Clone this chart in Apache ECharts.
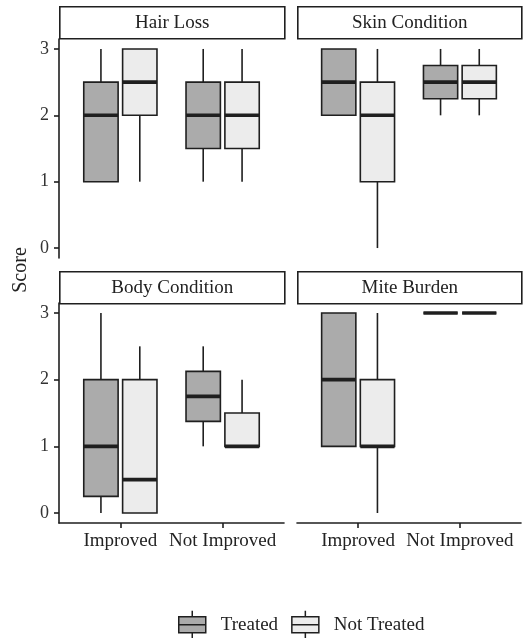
<!DOCTYPE html>
<html><head><meta charset="utf-8">
<script src="https://cdn.jsdelivr.net/npm/echarts@6/dist/echarts.min.js"></script>
<style>html,body{margin:0;padding:0;background:#fff}#c{width:525px;height:638px}</style>
</head><body><div id="c"></div>
<script>
// Data: each row = [min, q1, median, q3, max], one row per category
const categories = ['Improved', 'Not Improved'];
const panels = ['Hair Loss', 'Skin Condition', 'Body Condition', 'Mite Burden'];
const yTicks = [0, 1, 2, 3];
const hairTreated = [[1, 1, 2, 2.5, 3], [1, 1.5, 2, 2.5, 3]];
const hairNotTreated = [[1, 2, 2.5, 3, 3], [1, 1.5, 2, 2.5, 3]];
const skinTreated = [[2, 2, 2.5, 3, 3], [2, 2.25, 2.5, 2.75, 3]];
const skinNotTreated = [[0, 1, 2, 2.5, 3], [2, 2.25, 2.5, 2.75, 3]];
const bodyTreated = [[0, 0.25, 1, 2, 3], [1, 1.375, 1.75, 2.125, 2.5]];
const bodyNotTreated = [[0, 0, 0.5, 2, 2.5], [1, 1, 1, 1.5, 2]];
const miteTreated = [[1, 1, 2, 3, 3], [3, 3, 3, 3, 3]];
const miteNotTreated = [[0, 1, 1, 2, 3], [3, 3, 3, 3, 3]];

const treatedData = [hairTreated, skinTreated, bodyTreated, miteTreated];
const notTreatedData = [hairNotTreated, skinNotTreated, bodyNotTreated, miteNotTreated];

const FONT = 'Liberation Serif';
const INK = '#1f1f1f';
const FILL_T = '#ababab';
const FILL_N = '#ececec';
const HALF_W = 0.168;

const grids = [
  {left: 59, width: 225, top: 39, height: 219},
  {left: 297, width: 224, top: 39, height: 219},
  {left: 59, width: 225, top: 303, height: 220},
  {left: 297, width: 224, top: 303, height: 220}
];

function makeRender(offset, fill) {
  return function (params, api) {
    const cx = api.value(0) + offset;
    const pMin = api.coord([cx, api.value(1)]);
    const pQ1 = api.coord([cx, api.value(2)]);
    const pMed = api.coord([cx, api.value(3)]);
    const pQ3 = api.coord([cx, api.value(4)]);
    const pMax = api.coord([cx, api.value(5)]);
    const xl = api.coord([cx - HALF_W, 0])[0];
    const xr = api.coord([cx + HALF_W, 0])[0];
    const ls = {stroke: INK, lineWidth: 1.6};
    const children = [];
    if (pMax[1] < pQ3[1]) children.push({type: 'line', shape: {x1: pMax[0], y1: pMax[1], x2: pMax[0], y2: pQ3[1]}, style: ls});
    if (pMin[1] > pQ1[1]) children.push({type: 'line', shape: {x1: pMin[0], y1: pQ1[1], x2: pMin[0], y2: pMin[1]}, style: ls});
    children.push({type: 'rect', shape: {x: xl, y: pQ3[1], width: xr - xl, height: pQ1[1] - pQ3[1]},
      style: {fill: fill, stroke: INK, lineWidth: 1.6}});
    children.push({type: 'line', shape: {x1: xl, y1: pMed[1], x2: xr, y2: pMed[1]},
      style: {stroke: INK, lineWidth: 3.6}});
    return {type: 'group', children: children};
  };
}

const xAxes = [], yAxes = [], series = [], graphic = [];
grids.forEach(function (g, i) {
  const bottomRow = i >= 2, leftCol = i % 2 === 0;
  xAxes.push({
    type: 'value', gridIndex: i, min: 0.4, max: 2.6,
    show: bottomRow,
    splitLine: {show: false},
    axisLine: {show: bottomRow, onZero: false, lineStyle: {color: INK, width: 1.6}},
    axisTick: {show: true, customValues: [1, 2], length: 5, lineStyle: {color: INK, width: 1.6}},
    axisLabel: {show: true, customValues: [1, 2], margin: 9, color: '#222', fontFamily: FONT, fontSize: 19,
      formatter: function (v) { return categories[Math.round(v) - 1]; }}
  });
  yAxes.push({
    type: 'value', gridIndex: i, min: -0.15, max: 3.15,
    show: leftCol,
    splitLine: {show: false},
    axisLine: {show: leftCol, onZero: false, lineStyle: {color: INK, width: 1.6}},
    axisTick: {show: true, customValues: yTicks, length: 5, lineStyle: {color: INK, width: 1.6}},
    axisLabel: {show: true, customValues: yTicks, margin: 10, color: '#333', fontFamily: FONT, fontSize: 18}
  });
  const mk = function (rows) { return rows.map(function (r, k) { return [k + 1].concat(r); }); };
  series.push({
    type: 'custom', name: 'Treated', xAxisIndex: i, yAxisIndex: i,
    itemStyle: {color: FILL_T, borderColor: INK, borderWidth: 1.5},
    encode: {x: 0, y: [1, 2, 3, 4, 5]},
    renderItem: makeRender(-0.19, FILL_T), data: mk(treatedData[i])
  });
  series.push({
    type: 'custom', name: 'Not Treated', xAxisIndex: i, yAxisIndex: i,
    itemStyle: {color: FILL_N, borderColor: INK, borderWidth: 1.5},
    encode: {x: 0, y: [1, 2, 3, 4, 5]},
    renderItem: makeRender(0.19, FILL_N), data: mk(notTreatedData[i])
  });
  const sy = bottomRow ? 271 : 6;
  graphic.push({
    type: 'group', left: g.left, top: sy,
    children: [
      {type: 'rect', shape: {x: 0, y: 0, width: g.width, height: 32}, style: {fill: '#fff', stroke: INK, lineWidth: 1.6}},
      {type: 'text', x: g.width / 2, y: 16.5, style: {text: panels[i], fill: '#222', font: '19px "' + FONT + '"', align: 'center', verticalAlign: 'middle'}}
    ]
  });
});
graphic.push({type: 'text', x: 21, y: 270, rotation: Math.PI / 2,
  style: {text: 'Score', fill: '#222', font: '20px "' + FONT + '"', align: 'center', verticalAlign: 'middle'}});

const iconPath = 'path://M0,6 L0,22 L27,22 L27,6 Z M0,14 L27,14 M13.5,0 L13.5,6 M13.5,22 L13.5,28';
const chart = echarts.init(document.getElementById('c'), null, {renderer: 'canvas'});
chart.setOption({
  animation: false,
  grid: grids,
  xAxis: xAxes,
  yAxis: yAxes,
  series: series,
  graphic: graphic,
  legend: {
    top: 610, left: 178, padding: 0, itemWidth: 27, itemHeight: 28, itemGap: 13,
    textStyle: {fontFamily: FONT, fontSize: 19, color: '#222', padding: [0, 0, 0, 10]},
    data: [
      {name: 'Treated', icon: iconPath, itemStyle: {color: FILL_T, borderColor: INK, borderWidth: 1.5}},
      {name: 'Not Treated', icon: iconPath, itemStyle: {color: FILL_N, borderColor: INK, borderWidth: 1.5}}
    ]
  }
});
</script></body></html>
